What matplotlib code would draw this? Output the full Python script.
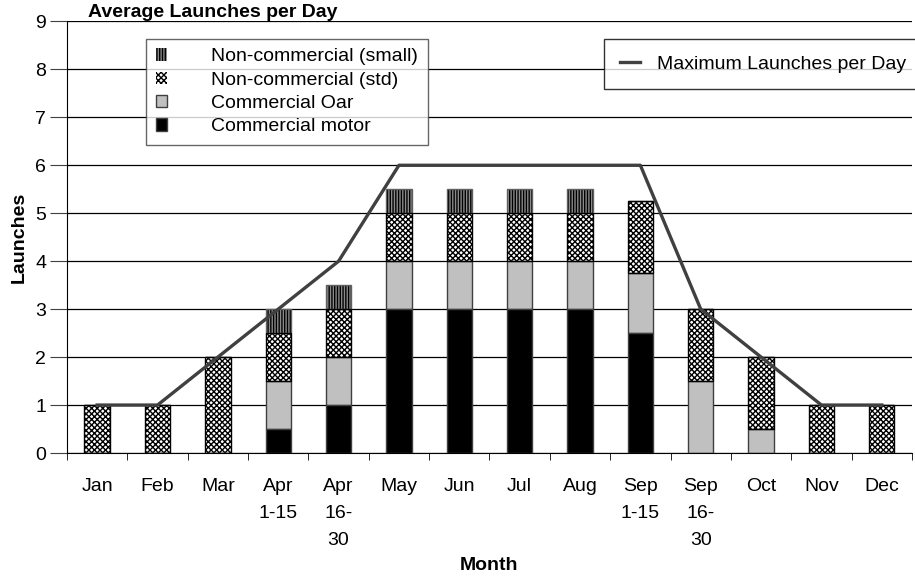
import numpy as np
import matplotlib
matplotlib.use("Agg")
import matplotlib.pyplot as plt

months = ["Jan", "Feb", "Mar", "Apr\n1-15", "Apr\n16-\n30", "May", "Jun", "Jul",
          "Aug", "Sep\n1-15", "Sep\n16-\n30", "Oct", "Nov", "Dec"]
commercial_motor = [0, 0, 0, 0.5, 1, 3, 3, 3, 3, 2.5, 0, 0, 0, 0]
commercial_oar = [0, 0, 0, 1, 1, 1, 1, 1, 1, 1.25, 1.5, 0.5, 0, 0]
noncomm_std = [1, 1, 2, 1, 1, 1, 1, 1, 1, 1.5, 1.5, 1.5, 1, 1]
noncomm_small = [0, 0, 0, 0.5, 0.5, 0.5, 0.5, 0.5, 0.5, 0, 0, 0, 0, 0]
max_launches = [1, 1, 2, 3, 4, 6, 6, 6, 6, 6, 3, 2, 1, 1]

plt.rcParams['font.family'] = ['Liberation Sans', 'DejaVu Sans']
plt.rcParams['hatch.linewidth'] = 1.0

fig = plt.figure(figsize=(9.15, 5.79), dpi=100)
ax = fig.add_axes([0.0732, 0.2176, 0.9235, 0.7454])

x = np.arange(len(months))
w = 0.42
edge = '#404040'
fs = 14

m = np.array(commercial_motor)
o = np.array(commercial_oar)
s = np.array(noncomm_std)
sm = np.array(noncomm_small)

# hatched fills (edgecolor drives hatch colour), outlines drawn separately
b_small = ax.bar(x, sm, w, bottom=m + o + s, color='#8a8a8a', edgecolor='black',
                 hatch='||||||', linewidth=0, label='Non-commercial (small)', zorder=3)
ax.bar(x, sm, w, bottom=m + o + s, fill=False, edgecolor='#606060',
       linewidth=1, zorder=3.5)
b_std = ax.bar(x, s, w, bottom=m + o, color='white', edgecolor='black',
               hatch='xxxxxx', linewidth=0, label='Non-commercial (std)', zorder=3)
ax.bar(x, s, w, bottom=m + o, fill=False, edgecolor='black',
       linewidth=1, zorder=3.5)
b_oar = ax.bar(x, o, w, bottom=m, color='#c0c0c0', edgecolor=edge,
               linewidth=1, label='Commercial Oar', zorder=3)
b_motor = ax.bar(x, m, w, color='black', edgecolor=edge,
                 linewidth=1, label='Commercial motor', zorder=3)
line, = ax.plot(x, max_launches, color='#404040', linewidth=2.4,
                label='Maximum Launches per Day', zorder=4)

ax.set_xlim(-0.5, len(months) - 0.5)
ax.set_ylim(0, 9)
ax.set_yticks(range(10))
ax.set_xticks(x)
ax.set_xticklabels(months, fontsize=fs, linespacing=1.75)
ax.set_xticks(np.arange(-0.5, len(months), 1), minor=True)
ax.tick_params(axis='x', which='major', length=0, pad=18)
ax.tick_params(axis='x', which='minor', length=5, color='black', direction='out')
ax.tick_params(axis='y', labelsize=fs, length=12, pad=3, color='#404040')
ax.yaxis.grid(True, color='black', linewidth=0.9, zorder=0)
ax.set_axisbelow(True)
for sp in ['top', 'right']:
    ax.spines[sp].set_visible(False)

ax.set_ylabel('Launches', fontsize=fs, fontweight='bold', labelpad=5)
ax.set_xlabel('Month', fontsize=fs, fontweight='bold', labelpad=6)
ax.set_title('Average Launches per Day', fontsize=fs, fontweight='bold',
             loc='left', x=0.025, pad=-2)

leg1 = ax.legend(handles=[b_small, b_std, b_oar, b_motor],
                 loc='upper left', bbox_to_anchor=(0.0936, 0.96), fontsize=fs,
                 frameon=True, fancybox=False, edgecolor='#404040',
                 handlelength=0.6, handleheight=0.6, handletextpad=2.25,
                 borderpad=0.5, labelspacing=0.32, borderaxespad=0)
leg1.get_frame().set_linewidth(1)
ax.add_artist(leg1)
leg2 = ax.legend(handles=[line], loc='upper left', bbox_to_anchor=(0.635, 0.96),
                 fontsize=fs, frameon=True, fancybox=False, edgecolor='black',
                 handlelength=1.0, handletextpad=0.9, borderpad=0.85,
                 borderaxespad=0)
leg2.get_frame().set_linewidth(1)

fig.savefig('out.png', dpi=100)
